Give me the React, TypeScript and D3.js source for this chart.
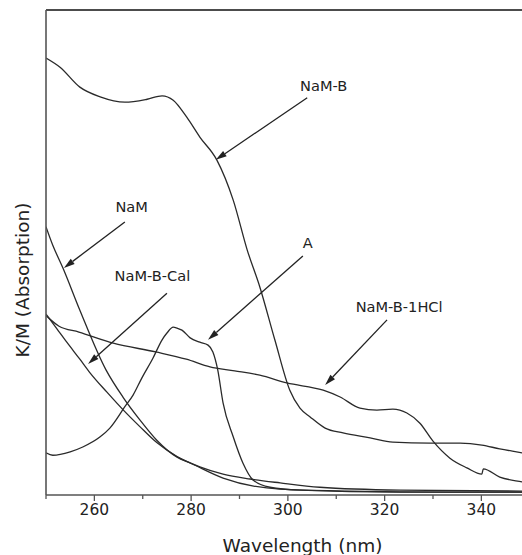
import React from "react";
import * as d3 from "d3";

// ---- Data (wavelength in nm, K/M in arbitrary units) ----
const nambWl = [250.0, 252.9, 257.0, 261.2, 266.3, 270.9, 274.0, 276.3, 279.1, 281.8, 285.3, 288.7, 291.6, 294.2, 297.3, 300.4, 302.5, 304.6, 307.7, 311.4, 317.0, 321.7, 329.4, 335.6, 340.1, 343.8, 348.4, 350.0];
const nambVal = [90.1, 88.2, 84.1, 82.1, 81.0, 81.6, 82.3, 81.4, 77.9, 73.8, 69.1, 60.8, 50.5, 42.9, 32.0, 21.6, 17.9, 16.1, 13.8, 12.8, 11.8, 10.9, 10.7, 10.7, 10.3, 9.5, 8.7, 8.4];

const hclWl = [250.0, 252.7, 256.8, 263.9, 272.7, 279.0, 283.9, 289.0, 294.2, 299.8, 307.3, 310.8, 314.9, 318.4, 321.7, 324.6, 327.3, 330.0, 333.5, 337.0, 340.1, 340.4, 343.8, 348.4, 350.0];
const hclVal = [37.0, 34.8, 33.6, 31.3, 29.5, 28.0, 26.4, 25.6, 24.7, 23.1, 21.6, 20.2, 17.9, 17.5, 17.7, 16.9, 14.8, 11.1, 7.6, 5.6, 4.3, 5.4, 3.7, 2.7, 2.4];

const namWl = [250.0, 251.4, 253.5, 257.0, 262.4, 265.9, 269.4, 272.9, 277.1, 279.8, 286.6, 298.4, 312.8, 333.5, 350.0];
const namVal = [55.3, 51.5, 46.8, 38.1, 25.8, 20.2, 15.5, 11.3, 7.8, 6.6, 3.5, 1.2, 0.8, 0.6, 0.6];

const calWl = [250.0, 252.3, 254.3, 257.0, 259.1, 262.6, 265.9, 269.4, 272.9, 277.1, 281.8, 286.6, 292.2, 298.4, 306.6, 323.2, 348.4, 350.0];
const calVal = [37.3, 34.2, 31.5, 28.0, 25.2, 21.2, 17.6, 14.1, 10.8, 7.9, 5.8, 4.3, 3.3, 2.5, 1.6, 1.0, 0.8, 0.8];

const aWl = [250.0, 251.4, 255.0, 257.6, 261.2, 263.2, 266.3, 268.0, 269.8, 272.1, 274.0, 275.0, 276.3, 277.1, 278.1, 279.8, 281.8, 283.5, 284.5, 285.5, 286.6, 288.7, 290.7, 292.8, 296.3, 302.5, 323.2, 350.0];
const aVal = [8.7, 8.2, 8.9, 9.9, 12.0, 13.8, 18.2, 20.6, 24.1, 28.2, 32.0, 33.4, 34.6, 34.4, 34.0, 32.4, 31.5, 30.9, 29.5, 25.8, 19.0, 12.0, 6.6, 3.1, 1.6, 1.0, 0.6, 0.6];

const seriesNames = ["NaM-B", "NaM-B-1HCl", "NaM", "NaM-B-Cal", "A"];
const seriesWl = [nambWl, hclWl, namWl, calWl, aWl];
const seriesVal = [nambVal, hclVal, namVal, calVal, aVal];

// annotations: label position and arrow (tail -> head) in data units
const annLabels = ["NaM-B", "A", "NaM", "NaM-B-Cal", "NaM-B-1HCl"];
const annLabelWl = [307.4, 304.1, 267.7, 272.0, 323.0];
const annLabelVal = [83.3, 50.9, 58.4, 44.1, 37.7];
const annTailWl = [304.0, 303.1, 266.3, 275.0, 320.5];
const annTailVal = [81.9, 49.3, 56.3, 41.6, 36.1];
const annHeadWl = [285.1, 283.5, 253.7, 258.7, 307.7];
const annHeadVal = [69.1, 32.0, 46.8, 27.0, 22.7];

const xTicks = [250, 260, 270, 280, 290, 300, 310, 320, 330, 340, 350];
const xLabels = [260, 280, 300, 320, 340];

export default function App() {
  const W = 522, H = 555;
  const left = 46, top = 10, bottom = 495;
  const x = d3.scaleLinear().domain([250, 350]).range([left, left + 100 * 4.8375]);
  const y = d3.scaleLinear().domain([0, 100]).range([bottom, top]);
  const line = d3.line<[number, number]>().x(d => x(d[0])).y(d => y(d[1])).curve(d3.curveMonotoneX);
  const font = "'DejaVu Sans', sans-serif";
  const ink = "#2a2a2a";

  return (
    <svg width={W} height={H} style={{ position: "absolute", left: 0, top: 0, background: "#fff" }}>
      <defs>
        <clipPath id="plotclip">
          <rect x={left} y={top} width={W - left} height={bottom - top} />
        </clipPath>
      </defs>
      <rect x={0} y={0} width={W} height={H} fill="#fff" />
      <g clipPath="url(#plotclip)">
        {seriesNames.map((n, i) => (
          <path key={n} d={line(seriesWl[i].map((w, j) => [w, seriesVal[i][j]]) as [number, number][]) || ""}
            fill="none" stroke={ink} strokeWidth={1.3} strokeLinejoin="round" />
        ))}
      </g>
      {/* frame */}
      <line x1={left} y1={top} x2={W} y2={top} stroke="#111" strokeWidth={1.4} />
      <line x1={left} y1={top} x2={left} y2={bottom} stroke="#555" strokeWidth={1.6} />
      <line x1={left} y1={bottom} x2={W} y2={bottom} stroke="#555" strokeWidth={1.6} />
      {xTicks.map(t => (
        <line key={t} x1={x(t)} x2={x(t)} y1={bottom} y2={bottom + (xLabels.includes(t) ? 6 : 4)} stroke="#555" strokeWidth={1.3} />
      ))}
      {xLabels.map(t => (
        <text key={t} x={x(t)} y={515} textAnchor="middle" fontFamily={font} fontSize={15.5} fill="#222">{t}</text>
      ))}
      <text x={302.5} y={552} textAnchor="middle" fontFamily={font} fontSize={18.5} fill="#222">Wavelength (nm)</text>
      <text transform="translate(29,280) rotate(-90)" textAnchor="middle" fontFamily={font} fontSize={18.5} fill="#222">K/M (Absorption)</text>
      {annLabels.map((lab, i) => {
        const x1 = x(annTailWl[i]), y1 = y(annTailVal[i]);
        const x2 = x(annHeadWl[i]), y2 = y(annHeadVal[i]);
        const ang = Math.atan2(y2 - y1, x2 - x1);
        const L = 11, hw = 3.2;
        const bx = x2 - L * Math.cos(ang), by = y2 - L * Math.sin(ang);
        const px = -Math.sin(ang) * hw, py = Math.cos(ang) * hw;
        return (
          <g key={lab}>
            <text x={x(annLabelWl[i])} y={y(annLabelVal[i])} textAnchor="middle" fontFamily={font} fontSize={14.6} fill="#222">{lab}</text>
            <line x1={x1} y1={y1} x2={bx} y2={by} stroke="#222" strokeWidth={1.3} />
            <path d={`M${x2},${y2}L${bx + px},${by + py}L${bx - px},${by - py}Z`} fill="#222" />
          </g>
        );
      })}
    </svg>
  );
}
